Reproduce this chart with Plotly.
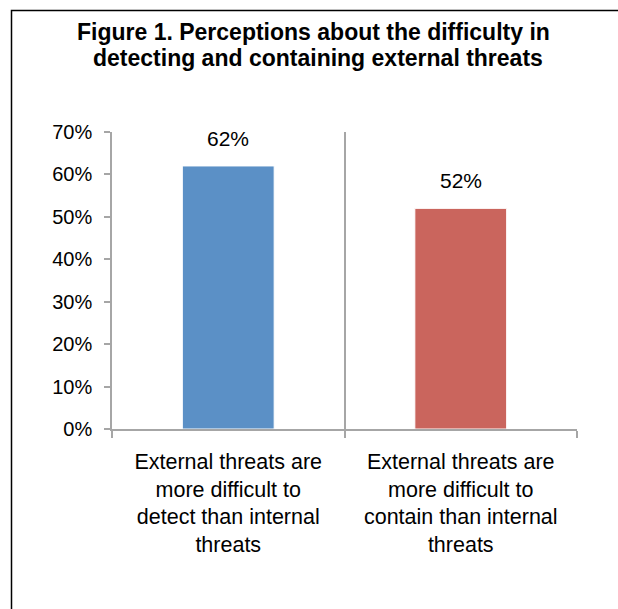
import plotly.graph_objects as go

categories = [
    "External threats are<br>more difficult to<br>detect than internal<br>threats",
    "External threats are<br>more difficult to<br>contain than internal<br>threats",
]
values = [0.62, 0.52]
colors = ["#5B90C6", "#CA655D"]
title_lines = [
    "Figure 1. Perceptions about the difficulty in",
    "detecting and containing external threats",
]

W, H = 618, 609
L, R, T, B = 112, 41, 132, 180

fig = go.Figure()
fig.add_trace(go.Bar(
    x=categories, y=values, marker=dict(color=colors, line=dict(color="white", width=1)),
    width=0.395, hoverinfo="skip",
))

for c, v in zip(categories, values):
    fig.add_annotation(x=c, y=v, text=f"{v:.0%}", showarrow=False, yanchor="bottom",
                       yshift=14, font=dict(size=21, color="black"))

pw, ph = W - L - R, H - T - B
def px2x(p): return (p - L) / pw
def py2y(p): return (H - B - p) / ph

# title lines
for (txt, cx, cy) in zip(title_lines, [313, 318], [32, 58]):
    fig.add_annotation(xref="paper", yref="paper", x=px2x(cx), y=py2y(cy), text=f"<b>{txt}</b>",
                       showarrow=False, xanchor="center", yanchor="middle",
                       font=dict(size=23, color="black"))

fig.add_shape(type="rect", xref="paper", yref="paper",
              x0=px2x(11.5), x1=px2x(630), y0=py2y(10.5), y1=py2y(630),
              line=dict(color="black", width=1.5), fillcolor="rgba(0,0,0,0)", layer="below")

fig.update_layout(
    width=W, height=H, margin=dict(l=L, r=R, t=T, b=B, autoexpand=False),
    paper_bgcolor="white", plot_bgcolor="white",
    font=dict(family="Liberation Sans, Arial, sans-serif", color="black"),
    showlegend=False,
    xaxis=dict(type="category", tickson="boundaries", showgrid=True, gridcolor="#A6A6A6", gridwidth=1.5,
               showline=True, linecolor="#A6A6A6", linewidth=1.5, ticks="outside", ticklen=7,
               tickcolor="#A6A6A6", tickwidth=1.5, tickfont=dict(size=21.5), ticklabelstandoff=12,
               range=[-0.5, 1.5], fixedrange=True),
    yaxis=dict(range=[0, 0.7], tickvals=[0, 0.1, 0.2, 0.3, 0.4, 0.5, 0.6, 0.7], tickformat=".0%",
               showgrid=False, zeroline=False, showline=True, linecolor="#A6A6A6", linewidth=1.5,
               ticks="outside", ticklen=6, tickcolor="#A6A6A6", tickwidth=1.5,
               tickfont=dict(size=20), ticklabelstandoff=8, fixedrange=True),
)
fig.write_html("out.html")
